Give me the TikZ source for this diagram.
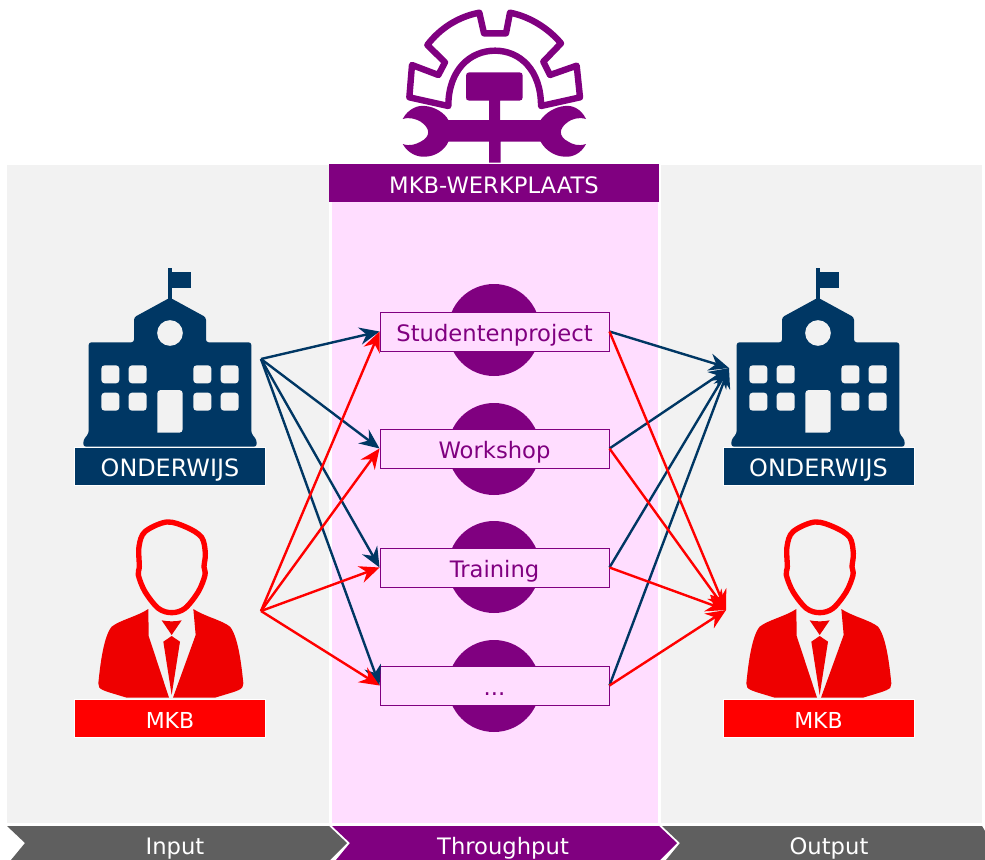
\documentclass[tikz,border=0pt]{standalone}
\usepackage{fontspec}
\setmainfont{DejaVu Sans}
\usetikzlibrary{arrows.meta}
\definecolor{panelgray}{HTML}{F2F2F2}
\definecolor{panelpink}{HTML}{FFDDFF}
\definecolor{mkbpurple}{HTML}{800080}
\definecolor{navyblue}{HTML}{003764}
\definecolor{redbody}{HTML}{EE0000}
\definecolor{chevgray}{HTML}{5F5F5F}
\tikzset{
  every node/.style={font=\fontsize{17}{18}\selectfont,text height=15pt,text depth=0pt},
  labelbox/.style={minimum width=143pt,minimum height=28.5pt,inner sep=0pt,text=white,draw=white,line width=.5pt},
  stepbox/.style={minimum width=171.75pt,minimum height=29.25pt,inner sep=0pt,draw=mkbpurple,fill=panelpink,text=mkbpurple,line width=.7pt},
  chevtext/.style={text=white,inner sep=0pt},
  navyline/.style={draw=navyblue,line width=1.8pt,-{Stealth[length=15pt,width=13pt,inset=5pt]}},
  redline/.style={draw=red,line width=1.8pt,-{Stealth[length=15pt,width=13pt,inset=5pt]}},
}
\begin{document}
\begin{tikzpicture}[x=.75pt,y=-.75pt]
\useasboundingbox (0,0) rectangle (985,860);
\fill[white] (0,0) rectangle (985,860);
% panels
\fill[panelgray] (7,165) rectangle (329,823);
\fill[panelgray] (661,165) rectangle (982,823);
\fill[panelpink] (332,200) rectangle (658,823);
\node[fill=mkbpurple,text=white,minimum width=247.5pt,minimum height=28.5pt,inner sep=0pt] (header) at (494,183) {MKB-WERKPLAATS};
% chevrons
\fill[chevgray] (7,826) -- (329,826) -- (347,843) -- (330,860) -- (11,860) -- (25,843) -- cycle;
\fill[mkbpurple] (332,826) -- (659,826) -- (677,843) -- (660,860) -- (336,860) -- (350,843) -- cycle;
\fill[chevgray] (662,826) -- (982,826) -- (985,831) -- (985,860) -- (666,860) -- (680,843) -- cycle;
\node[chevtext] (cin) at (175,844) {Input};
\node[chevtext] (cth) at (503,844) {Throughput};
\node[chevtext] (cout) at (829,844) {Output};
% gear and tools
\begin{scope}[shift={(380,0)},x=.25pt,y=-.25pt]
\draw[mkbpurple,line width=4.8pt,line join=round]
 (205,318) .. controls (205,210) and (270,152) .. (345,152) .. controls (420,152) and (483,210) .. (483,318)
 -- (600,292) -- (590,197) -- (510,225) -- (490,185) -- (543,130) .. controls (505,85) and (450,50) .. (390,38)
 -- (378,100) -- (312,100) -- (298,38) .. controls (235,50) and (180,85) .. (142,135) -- (195,187) -- (175,225)
 -- (96,195) -- (88,292) -- cycle;
\fill[mkbpurple] (68,357) .. controls (85,325) and (115,315) .. (135,318) .. controls (165,320) and (195,340) .. (205,360)
 -- (327,360) -- (327,302) -- (268,302) .. controls (260,302) and (258,298) .. (258,292) -- (258,227) .. controls (258,220) and (262,217) .. (268,217)
 -- (418,217) .. controls (425,217) and (428,220) .. (428,227) -- (428,292) .. controls (428,298) and (425,302) .. (418,302)
 -- (360,302) -- (360,360) -- (482,360) .. controls (495,340) and (525,320) .. (555,318) .. controls (575,315) and (603,325) .. (618,357)
 .. controls (595,350) and (575,358) .. (565,365) .. controls (535,385) and (535,410) .. (565,425) .. controls (575,432) and (595,440) .. (618,432)
 .. controls (603,462) and (575,472) .. (555,470) .. controls (525,470) and (495,450) .. (482,425)
 -- (362,425) -- (362,488) -- (327,488) -- (327,425) -- (205,425)
 .. controls (195,450) and (165,470) .. (135,470) .. controls (115,472) and (85,462) .. (68,432)
 .. controls (90,440) and (110,432) .. (122,425) .. controls (152,410) and (152,385) .. (122,365) .. controls (110,358) and (90,350) .. (68,357) -- cycle;
\end{scope}
% circles
\foreach \n/\yy in {c1/330,c2/449,c3/567,c4/686}
  \fill[mkbpurple] (494,\yy) circle (46);
% school icons
\foreach \sx in {0,648}{
\begin{scope}[shift={(70+\sx,260)},x=.25pt,y=-.25pt]
\fill[navyblue] (293,120) -- (293,25) -- (306,25) -- (306,120) -- cycle;
\fill[navyblue] (306,35) -- (363,35) -- (363,83) -- (306,83) -- cycle;
\fill[navyblue,rounded corners=2pt] (300,113) -- (408,172) -- (408,247) -- (544,247) -- (544,520) -- (560,540) -- (560,560) -- (40,560) -- (40,540) -- (56,520) -- (56,247) -- (192,247) -- (192,172) -- cycle;
\fill[panelgray] (300,219) circle (38.5);
\foreach \wx in {94,176,370,452}\foreach \wy in {316,398}
  \fill[panelgray,rounded corners=2.5pt] (\wx,\wy) rectangle ++(54,54);
\fill[panelgray,rounded corners=2.5pt] (262,518) -- (262,390) -- (338,390) -- (338,518) [sharp corners] -- cycle;
\end{scope}
% person icons
\begin{scope}[shift={(70+\sx,510)},x=.25pt,y=-.25pt]
\fill[redbody] (235,297) .. controls (200,320) and (150,330) .. (125,350) .. controls (100,380) and (90,470) .. (85,520) .. controls (85,540) and (95,540) .. (170,563) -- (297,563) -- (236,378) -- cycle;
\fill[redbody] (370,297) .. controls (405,320) and (455,330) .. (480,350) .. controls (505,380) and (515,470) .. (520,520) .. controls (520,540) and (510,540) .. (435,563) -- (309,563) -- (377,375) -- cycle;
\fill[redbody] (275,331) .. controls (295,335) and (315,335) .. (335,331) -- (305,375) -- cycle;
\fill[redbody] (305,378) -- (330,395) -- (305,555) -- (280,395) -- cycle;
\draw[red,line width=4pt,line join=round] plot[smooth cycle,tension=.55] coordinates {(290,36) (350,52) (395,82) (406,130) (402,170) (405,195) (385,245) (345,295) (305,308) (265,295) (225,245) (205,195) (208,170) (207,110) (225,65)};
\end{scope}
}
% labels
\node[labelbox,fill=navyblue,font=\fontsize{17.9}{18}\selectfont] (ondL) at (170,466.5) {ONDERWIJS};
\node[labelbox,fill=navyblue,font=\fontsize{17.9}{18}\selectfont] (ondR) at (818.5,466.5) {ONDERWIJS};
\node[labelbox,fill=red,font=\fontsize{16.5}{18}\selectfont] (mkbL) at (170,718.5) {MKB};
\node[labelbox,fill=red,font=\fontsize{16.5}{18}\selectfont] (mkbR) at (818.5,718.5) {MKB};
% steps
\node[stepbox] (s1) at (494.5,331.5) {Studentenproject};
\node[stepbox] (s2) at (494.5,448.5) {Workshop};
\node[stepbox] (s3) at (494.5,567.5) {Training};
\node[stepbox] (s4) at (494.5,685.5) {...};
% connectors
\coordinate (srcN) at (261,359);
\coordinate (srcR) at (261,611);
\coordinate (dstN) at (729,368);
\coordinate (dstR) at (726,610);
\foreach \t in {s1,s2,s3,s4} \draw[navyline] (srcN) -- (\t.west);
\foreach \t in {s1,s2,s3,s4} \draw[navyline] (\t.east) -- (dstN);
\foreach \t in {s1,s2,s3,s4} \draw[redline] (srcR) -- (\t.west);
\foreach \t in {s1,s2,s3,s4} \draw[redline] (\t.east) -- (dstR);
\end{tikzpicture}
\end{document}
